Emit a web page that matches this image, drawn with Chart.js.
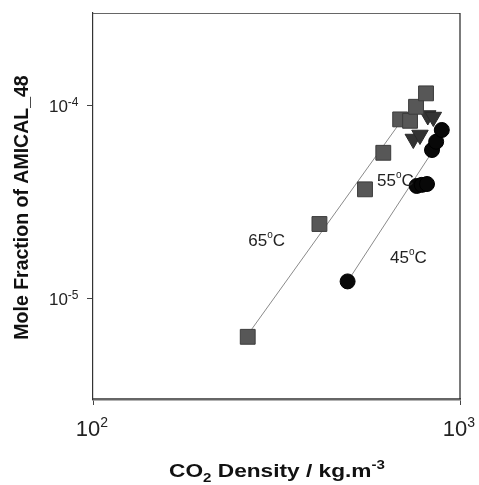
<!DOCTYPE html>
<html>
<head>
<meta charset="utf-8">
<script src="https://cdn.jsdelivr.net/npm/chart.js@4.4.1/dist/chart.umd.min.js"></script>
<style>
  body { margin: 0; background: #fff; }
  #wrap { width: 479px; height: 485px; position: relative; }
</style>
</head>
<body>
<div id="wrap"><canvas id="solChart"></canvas></div>
<script>
// CO2 density (kg/m3) vs mole fraction
const sq65X = [264, 414, 551, 618, 687, 731, 759, 808];
const sq65Y = [6.3e-6, 2.42e-5, 3.66e-5, 5.66e-5, 8.43e-5, 8.29e-5, 9.8e-5, 1.15e-4];
const tri55X = [746, 778, 817, 846];
const tri55Y = [6.67e-5, 7.0e-5, 8.83e-5, 8.67e-5];
const dot45X = [494, 762, 787, 813, 839, 861, 892];
const dot45Y = [1.22e-5, 3.81e-5, 3.86e-5, 3.9e-5, 5.85e-5, 6.46e-5, 7.43e-5];

// fitted lines (end points)
const fit65X = [268, 679];
const fit65Y = [6.72e-6, 7.88e-5];
const fit45X = [494, 829];
const fit45Y = [1.22e-5, 5.51e-5];

const xTicks = [100, 1000];
const yTicks = [1e-5, 1e-4];

// temperature labels, anchored in data coordinates
const tempLabels = ['65', '55', '45'];
const tempLabelX = [265, 594, 645];
const tempLabelY = [1.87e-5, 3.82e-5, 1.52e-5];

const pts = (xs, ys) => xs.map((x, i) => ({ x: x, y: ys[i] }));
const isDecade = v => Math.abs(Math.log10(v) - Math.round(Math.log10(v))) < 1e-9;
const FONT = 'Arial, "Liberation Sans", sans-serif';

// draw a run of text pieces with their own size / vertical shift
function drawRich(ctx, parts, x, y, align, sx) {
    sx = sx || 1;
    let total = 0;
    parts.forEach(p => {
        ctx.font = p.font;
        p.w = ctx.measureText(p.t).width;
        total += p.w;
    });
    total *= sx;
    let cx = x;
    if (align === 'center') cx = x - total / 2;
    if (align === 'right') cx = x - total;
    ctx.save();
    ctx.translate(cx, y);
    ctx.scale(sx, 1);
    ctx.textAlign = 'left';
    ctx.textBaseline = 'alphabetic';
    let off = 0;
    parts.forEach(p => {
        ctx.font = p.font;
        ctx.fillText(p.t, off, p.dy || 0);
        off += p.w;
    });
    ctx.restore();
}

const decorations = {
    id: 'decorations',
    afterDraw(chart) {
        const ctx = chart.ctx;
        const area = chart.chartArea;
        const xs = chart.scales.x;
        const ys = chart.scales.y;
        ctx.save();

        // top and right frame
        ctx.strokeStyle = '#666';
        ctx.lineWidth = 1;
        ctx.beginPath();
        ctx.moveTo(area.left, area.top + 0.5);
        ctx.lineTo(area.right, area.top + 0.5);
        ctx.stroke();
        ctx.strokeStyle = '#222';
        ctx.lineWidth = 1.2;
        ctx.beginPath();
        ctx.moveTo(area.right, area.top);
        ctx.lineTo(area.right, area.bottom);
        ctx.stroke();

        ctx.fillStyle = '#222';
        // x tick labels
        xTicks.forEach(v => {
            const px = xs.getPixelForValue(v);
            drawRich(ctx, [
                { t: '10', font: '22px ' + FONT },
                { t: String(Math.round(Math.log10(v))), font: '14px ' + FONT, dy: -9 }
            ], px - 1, area.bottom + 37, 'center');
        });
        // y tick labels
        yTicks.forEach(v => {
            const py = ys.getPixelForValue(v);
            drawRich(ctx, [
                { t: '10', font: '17px ' + FONT },
                { t: String(Math.round(Math.log10(v))), font: '12px ' + FONT, dy: -6 }
            ], area.left - 14.5, py + 6.5, 'right');
        });

        // axis titles
        ctx.fillStyle = '#111';
        drawRich(ctx, [
            { t: 'CO', font: 'bold 18px ' + FONT },
            { t: '2', font: 'bold 12px ' + FONT, dy: 5 },
            { t: ' Density / kg.m', font: 'bold 18px ' + FONT },
            { t: '-3', font: 'bold 12px ' + FONT, dy: -8 }
        ], 277, 477, 'center', 1.26);

        ctx.save();
        ctx.translate(28, 207.5);
        ctx.rotate(-Math.PI / 2);
        drawRich(ctx, [
            { t: 'Mole Fraction of AMICAL_48', font: 'bold 19.5px ' + FONT }
        ], 0, 0, 'center');
        ctx.restore();

        // temperature labels
        ctx.fillStyle = '#222';
        tempLabels.forEach((t, i) => {
            const px = xs.getPixelForValue(tempLabelX[i]);
            const py = ys.getPixelForValue(tempLabelY[i]);
            drawRich(ctx, [
                { t: t, font: '17px ' + FONT },
                { t: 'o', font: '10px ' + FONT, dy: -8 },
                { t: 'C', font: '17px ' + FONT }
            ], px, py, 'left');
        });
        ctx.restore();
    }
};

const ctx = document.getElementById('solChart').getContext('2d');
const solChart = new Chart(ctx, {
    type: 'scatter',
    data: {
        datasets: [
            {
                label: '45C',
                data: pts(dot45X, dot45Y),
                pointStyle: 'circle',
                pointRadius: 7.5,
                backgroundColor: '#080808',
                borderColor: '#000',
                borderWidth: 1,
                order: 1
            },
            {
                label: '65C',
                data: pts(sq65X, sq65Y),
                pointStyle: 'rect',
                pointRadius: 10.5,
                backgroundColor: '#575757',
                borderColor: '#3c3c3c',
                borderWidth: 1,
                order: 2
            },
            {
                label: '55C',
                data: pts(tri55X, tri55Y),
                pointStyle: 'triangle',
                rotation: 180,
                pointRadius: 9.5,
                backgroundColor: '#333',
                borderColor: '#2a2a2a',
                borderWidth: 1,
                order: 3
            },
            {
                label: 'fit65',
                data: pts(fit65X, fit65Y),
                showLine: true,
                pointRadius: 0,
                borderColor: '#8a8a8a',
                borderWidth: 1,
                order: 4
            },
            {
                label: 'fit45',
                data: pts(fit45X, fit45Y),
                showLine: true,
                pointRadius: 0,
                borderColor: '#8a8a8a',
                borderWidth: 1,
                order: 4
            }
        ]
    },
    options: {
        responsive: true,
        maintainAspectRatio: false,
        animation: false,
        layout: { padding: { top: 13, right: 19, left: 0, bottom: 0 } },
        plugins: {
            legend: { display: false },
            tooltip: { enabled: false }
        },
        scales: {
            x: {
                type: 'logarithmic',
                min: 100,
                max: 1000,
                afterFit: s => { s.height = 86; },
                border: { color: '#666', width: 2.5 },
                grid: { drawOnChartArea: false, drawTicks: true, tickLength: 6, color: '#444' },
                ticks: {
                    autoSkip: false,
                    maxRotation: 0,
                    callback: v => (isDecade(v) ? '' : null)
                }
            },
            y: {
                type: 'logarithmic',
                min: 3e-6,
                max: 3e-4,
                afterFit: s => { s.width = 93; },
                border: { color: '#333', width: 1.2 },
                grid: { drawOnChartArea: false, drawTicks: true, tickLength: 6, color: '#444' },
                ticks: {
                    autoSkip: false,
                    callback: v => (isDecade(v) ? '' : null)
                }
            }
        }
    },
    plugins: [decorations]
});
</script>
</body>
</html>
